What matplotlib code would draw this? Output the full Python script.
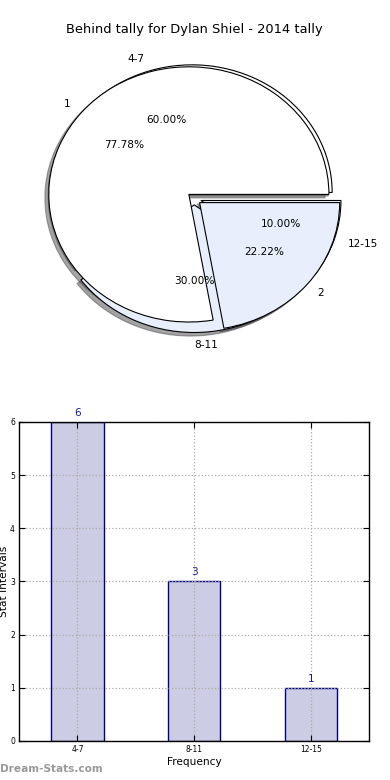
import matplotlib
matplotlib.use("Agg")
import matplotlib.pyplot as plt
import numpy as np

# ---- data ----
title = "Behind tally for Dylan Shiel - 2014 tally"
outer_labels = ["4-7", "8-11", "12-15"]
outer_values = [6, 3, 1]
inner_labels = ["1", "2"]
inner_values = [7, 2]
bar_labels = ["4-7", "8-11", "12-15"]
bar_values = [6, 3, 1]

outer_colors = ["white", "#E8EEFB", "#E8EEFB"]
inner_colors = ["white", "#E8EEFB"]

fig = plt.figure(figsize=(3.9, 7.8), dpi=100)

# ---- pie ----
ax1 = fig.add_axes([0.049, 0.541, 0.898, 0.409])
wp = dict(edgecolor="black", linewidth=0.8)
tp = dict(fontsize=7.6)
res1 = ax1.pie(outer_values, labels=outer_labels, explode=[0.05] * len(outer_values),
               autopct="%1.2f%%", shadow=True, colors=outer_colors,
               wedgeprops=wp, textprops=tp)
res2 = ax1.pie(inner_values, labels=inner_labels, explode=[0.05] * len(inner_values),
               autopct="%1.2f%%", shadow=True, colors=inner_colors,
               wedgeprops=wp, textprops=tp)
for res in (res1, res2):
    for t in res[1]:
        x, y = t.get_position()
        if abs(x) < 1e-6:
            t.set_ha("left")
ax1.set_aspect("auto")
ax1.set_xlim(-1.25, 1.25)
ax1.set_ylim(-1.25, 1.25)
ax1.set_title(title, fontsize=9.4, pad=4)

# ---- bars ----
ax2 = fig.add_axes([0.049, 0.05, 0.898, 0.409])
xpos = np.arange(len(bar_values))
ax2.bar(xpos, bar_values, width=0.45, color="#CCCDE4", edgecolor="#000080", linewidth=1)
for xi, v in zip(xpos, bar_values):
    ax2.text(xi, v + 0.08, str(v), ha="center", va="bottom", color="#1a1aa0", fontsize=7.6)
ax2.set_xlim(-0.5, 2.5)
ax2.set_ylim(0, 6)
ax2.set_xticks(xpos)
ax2.set_xticklabels(bar_labels)
ax2.set_yticks(range(0, 7))
ax2.tick_params(direction="in", top=True, right=True, labelsize=5.5, length=4, pad=3)
ax2.grid(True, linestyle=":", color="#aaaaaa", linewidth=0.9)
ax2.set_axisbelow(False)
for s in ax2.spines.values():
    s.set_linewidth(1)
    s.set_zorder(3)
ax2.set_xlabel("Frequency", fontsize=7.6, labelpad=2)
ax2.set_ylabel("Stat Intervals", fontsize=7.6, labelpad=1)

fig.text(0.0, 1 - 769 / 780, "Dream-Stats.com", color="#999999", fontsize=7.6,
         fontweight="bold", ha="left", va="center")

fig.savefig("out.png", dpi=100)
